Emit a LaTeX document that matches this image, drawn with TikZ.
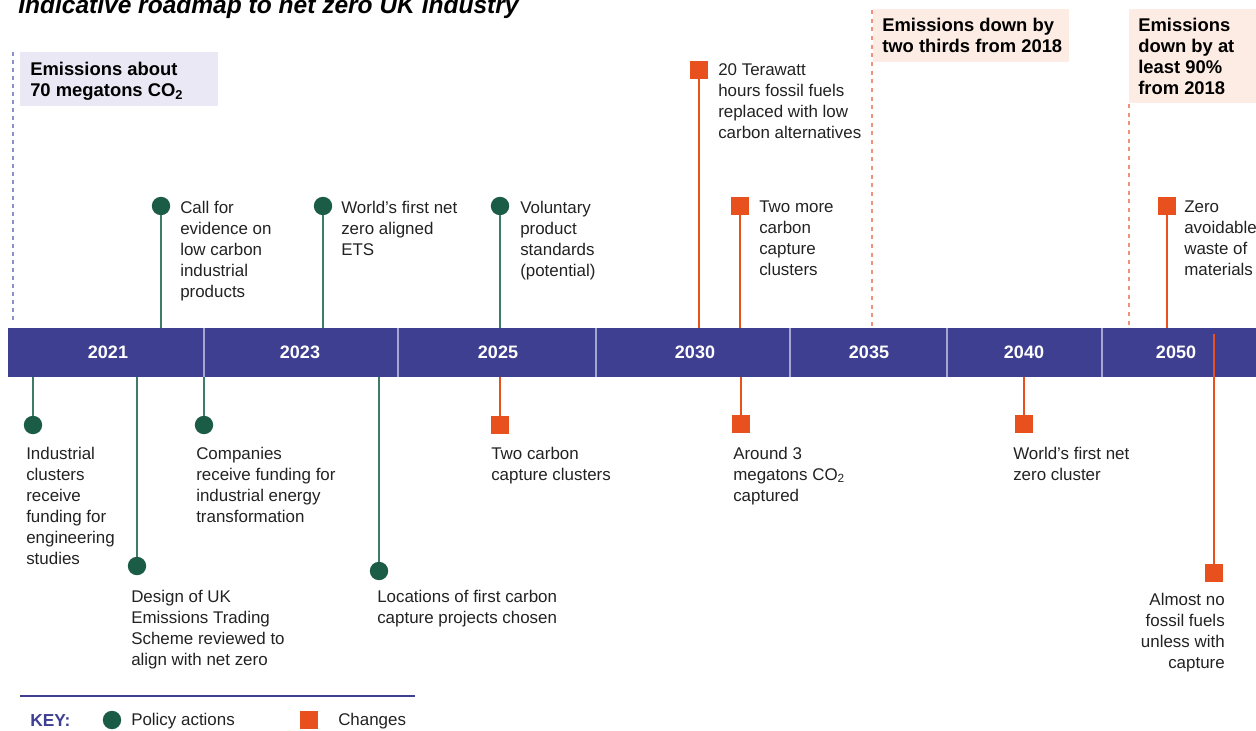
\documentclass[tikz,border=0pt]{standalone}
\usepackage{fontspec}
\setmainfont{Liberation Sans}
\definecolor{barblue}{HTML}{3E3F91}
\definecolor{divcol}{HTML}{A6A6D2}
\definecolor{pgreen}{HTML}{1A5C45}
\definecolor{stemgreen}{HTML}{3D7D68}
\definecolor{chorange}{HTML}{E8501E}
\definecolor{dashorange}{HTML}{F2917A}
\definecolor{dashpurple}{HTML}{8F8FCC}
\definecolor{lavbox}{HTML}{EAE8F5}
\definecolor{peachbox}{HTML}{FDECE3}
\definecolor{txt}{HTML}{222222}
\begin{document}
\begin{tikzpicture}[x=0.75pt,y=-0.75pt,
  lbl/.style={anchor=north west, inner sep=0pt, align=left, text=txt, font=\fontsize{12.7}{15.75}\selectfont},
  lblr/.style={lbl, anchor=north east, align=right},
  dot/.style={circle, fill=pgreen, minimum size=13.8pt, inner sep=0pt},
  sq/.style={rectangle, fill=chorange, minimum size=13.5pt, inner sep=0pt},
  gstem/.style={stemgreen, line width=1.5pt},
  ostem/.style={chorange, line width=1.5pt},
  yr/.style={text=white, inner sep=0pt, font=\bfseries\fontsize{13.5}{16}\selectfont},
  boxtxt/.style={anchor=north west, align=left, inner sep=0pt, text=black, font=\bfseries\fontsize{13.8}{15.75}\selectfont},
  divider/.style={divcol, line width=0.9pt},
  pdash/.style={dashpurple, line width=1.2pt, dash pattern=on 3pt off 3pt},
  odash/.style={dashorange, line width=1.2pt, dash pattern=on 3pt off 3.5pt},
]
\path[use as bounding box] (0,0) rectangle (1256,731);
\clip (0,0) rectangle (1256,731);

% title
\node[anchor=base west, inner sep=0pt, font=\bfseries\itshape\fontsize{18.4}{20}\selectfont] (title) at (18,14) {Indicative roadmap to net zero UK industry};

% dashed markers
\draw[pdash] (13,52) -- (13,322);
\draw[odash] (872,10) -- (872,328);
\draw[odash] (1129,104) -- (1129,328);

% emission boxes
\fill[lavbox] (20,52) rectangle (218,106);
\node[boxtxt] (b1) at (30,62.4) {Emissions about\\70 megatons CO\textsubscript{2}};
\fill[peachbox] (873,9) rectangle (1069,62);
\node[boxtxt] (b2) at (882,18.4) {Emissions down by\\two thirds from 2018};
\fill[peachbox] (1129,9) rectangle (1256,103);
\node[boxtxt] (b3) at (1138,18.4) {Emissions\\down by at\\least 90\%\\from 2018};

% bar
\coordinate (bartop) at (0,328);
\coordinate (barbot) at (0,377);
\coordinate (barin) at (0,334);
\fill[barblue] (8,328) rectangle (1256,377);
\foreach \x in {204,398,596,790,947,1102} \draw[divider] (\x,328) -- (\x,377);
\node[yr] (y2021) at (108,352.5) {2021};
\node[yr] (y2023) at (300,352.5) {2023};
\node[yr] (y2025) at (498,352.5) {2025};
\node[yr] (y2030) at (695,352.5) {2030};
\node[yr] (y2035) at (869,352.5) {2035};
\node[yr] (y2040) at (1024,352.5) {2040};
\node[yr] (y2050) at (1176,352.5) {2050};

% policy actions above
\node[dot] (p1) at (161,206) {};
\draw[gstem] (p1) -- (p1 |- bartop);
\node[lbl] (t1) at (180,200.5) {Call for\\evidence on\\low carbon\\industrial\\products};
\node[dot] (p2) at (323,206) {};
\draw[gstem] (p2) -- (p2 |- bartop);
\node[lbl] (t2) at (341,200.5) {World’s first net\\zero aligned\\ETS};
\node[dot] (p3) at (500,206) {};
\draw[gstem] (p3) -- (p3 |- bartop);
\node[lbl] (t3) at (520,200.5) {Voluntary\\product\\standards\\(potential)};

% policy actions below
\node[dot] (p4) at (33,425) {};
\draw[gstem] (p4) -- (p4 |- barbot);
\node[lbl] (t4) at (26,446.5) {Industrial\\clusters\\receive\\funding for\\engineering\\studies};
\node[dot] (p5) at (137,566) {};
\draw[gstem] (p5) -- (p5 |- barbot);
\node[lbl] (t5) at (131,589.5) {Design of UK\\Emissions Trading\\Scheme reviewed to\\align with net zero};
\node[dot] (p6) at (204,425) {};
\draw[gstem] (p6) -- (p6 |- barbot);
\node[lbl] (t6) at (196,446.5) {Companies\\receive funding for\\industrial energy\\transformation};
\node[dot] (p7) at (379,571) {};
\draw[gstem] (p7) -- (p7 |- barbot);
\node[lbl] (t7) at (377,589.5) {Locations of first carbon\\capture projects chosen};

% changes above
\node[sq] (c1) at (699,70) {};
\draw[ostem] (c1) -- (c1 |- bartop);
\node[lbl] (u1) at (718,63.5) {20 Terawatt\\hours fossil fuels\\replaced with low\\carbon alternatives};
\node[sq] (c2) at (740,206) {};
\draw[ostem] (c2) -- (c2 |- bartop);
\node[lbl] (u2) at (759,200.5) {Two more\\carbon\\capture\\clusters};
\node[sq] (c3) at (1167,206) {};
\draw[ostem] (c3) -- (c3 |- bartop);
\node[lbl] (u3) at (1184,200.5) {Zero\\avoidable\\waste of\\materials};

% changes below
\node[sq] (c4) at (500,425) {};
\draw[ostem] (c4) -- (c4 |- barbot);
\node[lbl] (u4) at (491,446.5) {Two carbon\\capture clusters};
\node[sq] (c5) at (741,424) {};
\draw[ostem] (c5) -- (c5 |- barbot);
\node[lbl] (u5) at (733,446.5) {Around 3\\megatons CO\textsubscript{2}\\captured};
\node[sq] (c6) at (1024,424) {};
\draw[ostem] (c6) -- (c6 |- barbot);
\node[lbl] (u6) at (1013,446.5) {World’s first net\\zero cluster};
\node[sq] (c7) at (1214,573) {};
\draw[ostem] (c7) -- (c7 |- barin);
\node[lblr] (u7) at (1225,592.5) {Almost no\\fossil fuels\\unless with\\capture};

% key
\draw[barblue, line width=1.1pt] (20,696) -- (415,696);
\node[anchor=west, inner sep=0pt, text=barblue, font=\bfseries\fontsize{13}{15}\selectfont] (key) at (30,721) {KEY:};
\node[dot] (kdot) at (112,720) {};
\node[anchor=west, inner sep=0pt, text=txt, font=\fontsize{12.7}{15.75}\selectfont] (kpol) at (131,721) {Policy actions};
\node[sq] (ksq) at (309,720) {};
\node[anchor=west, inner sep=0pt, text=txt, font=\fontsize{12.7}{15.75}\selectfont] (kch) at (338,721) {Changes};
\end{tikzpicture}
\end{document}
